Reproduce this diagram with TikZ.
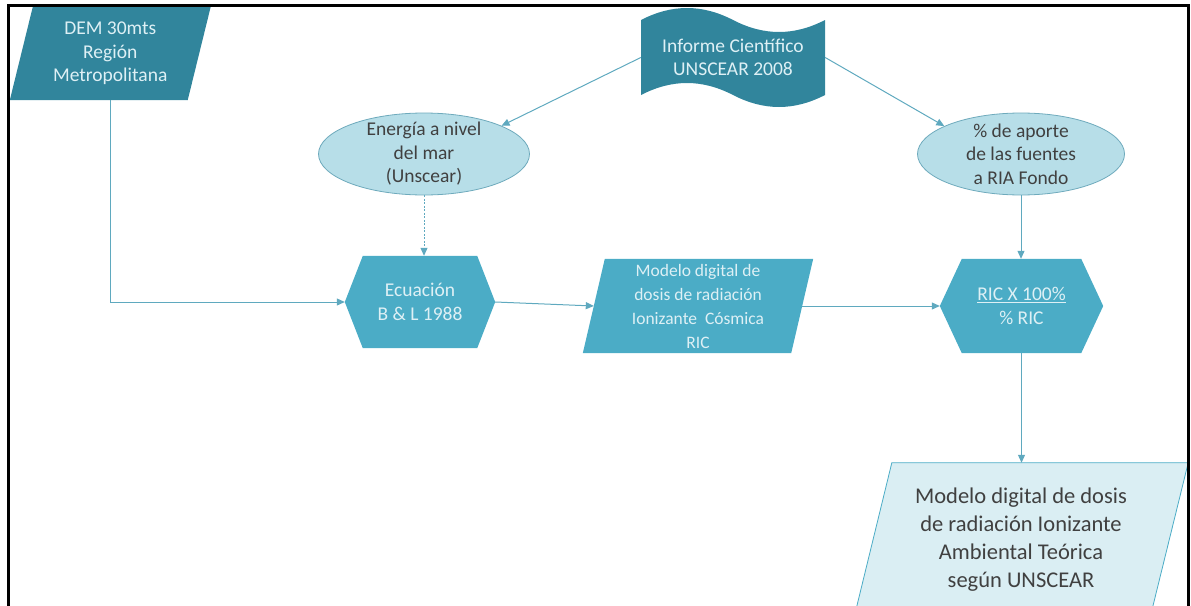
\documentclass[tikz,border=0pt]{standalone}
\usepackage{fontspec}
\setmainfont{Carlito}
\usetikzlibrary{arrows.meta,shapes.geometric,backgrounds}
\definecolor{darkteal}{RGB}{49,133,156}
\definecolor{midteal}{RGB}{75,172,198}
\definecolor{lightblue}{RGB}{183,222,232}
\definecolor{paleblue}{RGB}{218,238,243}
\definecolor{ellline}{RGB}{110,170,188}
\definecolor{connc}{RGB}{95,169,191}
\definecolor{lighttext}{RGB}{222,240,245}
\definecolor{darktext}{RGB}{64,64,64}
\begin{document}
\begin{tikzpicture}[x=1pt,y=-1pt,
  box/.style={inner sep=0pt, align=center, text=lighttext, font=\fontsize{19.5}{23.5}\selectfont},
  dtext/.style={inner sep=0pt, align=center, text=darktext, font=\fontsize{19.5}{23.5}\selectfont},
  ellnode/.style={ellipse, draw=ellline, fill=lightblue, line width=0.8pt, inner sep=0pt},
  conn/.style={draw=connc, line width=1pt, -{Triangle[length=8pt,width=7pt]}},
  dotline/.style={dash pattern=on 2pt off 1.5pt},
  frameline/.style={line width=3pt, black}
]
\useasboundingbox (0,0) rectangle (1191,605);
\clip (0,0) rectangle (1191,605);

% nodes
\node[box, minimum width=177.5, minimum height=93] (dem) at (110.25,53.5) {DEM 30mts\\Región\\Metropolitana};
\node[box, minimum width=184, minimum height=75] (wave) at (733,57.5) {Informe Científico\\UNSCEAR 2008};
\node[ellnode, minimum width=211, minimum height=82] (ell1) at (424,154) {};
\node[dtext] (ell1t) at (ell1.center) {Energía a nivel\\del mar\\(Unscear)};
\node[ellnode, minimum width=207, minimum height=82] (ell2) at (1021,154) {};
\node[dtext] (ell2t) at (ell2.center) {\% de aporte\\de las fuentes\\a RIA Fondo};
\node[box, minimum width=150, minimum height=92] (ecu) at (420,302) {Ecuación\\B \& L 1988};
\node[box, font=\fontsize{17.5}{24}\selectfont, minimum width=208, minimum height=94] (modelo) at (698,306) {Modelo digital de\\dosis de radiación\\Ionizante~ Cósmica\\RIC};
\node[box, minimum width=163, minimum height=94] (ric) at (1021.5,306) {\underline{RIC X 100\%}\\\% RIC};
\node[dtext, font=\fontsize{22.5}{28}\selectfont, minimum width=296, minimum height=154] (final) at (1021,540) {Modelo digital de dosis\\de radiación Ionizante\\Ambiental Teórica\\según UNSCEAR};

% shapes behind the texts
\begin{scope}[on background layer]
  \fill[darkteal] ([xshift=11.5]dem.north west) -- ([xshift=11.5]dem.north east) -- ([xshift=-11.5]dem.south east) -- ([xshift=-11.5]dem.south west) -- cycle;
  \begin{scope}[shift={(wave.center)}]
    \fill[darkteal] (-92,-37.5) .. controls (-61,-53.5) and (-31,-53.5) .. (0,-37.5)
      .. controls (31,-21.5) and (61,-21.5) .. (92,-37.5) -- (92,37.5)
      .. controls (61,53.5) and (31,53.5) .. (0,37.5)
      .. controls (-31,21.5) and (-61,21.5) .. (-92,37.5) -- cycle;
  \end{scope}
  \fill[midteal] (ecu.west) -- ([xshift=18]ecu.north west) -- ([xshift=-18]ecu.north east) -- (ecu.east) -- ([xshift=-18]ecu.south east) -- ([xshift=18]ecu.south west) -- cycle;
  \fill[midteal] (ric.west) -- ([xshift=22]ric.north west) -- ([xshift=-22]ric.north east) -- (ric.east) -- ([xshift=-22]ric.south east) -- ([xshift=22]ric.south west) -- cycle;
  \fill[midteal] ([xshift=11]modelo.north west) -- ([xshift=11]modelo.north east) -- ([xshift=-11]modelo.south east) -- ([xshift=-11]modelo.south west) -- cycle;
  \filldraw[fill=paleblue, draw=midteal, line width=0.8pt] ([xshift=19]final.north west) -- ([xshift=19]final.north east) -- ++(-43.6,177) -- ++(-296,0) -- cycle;
\end{scope}

% connectors
\draw[conn] (dem.south) |- (ecu.west);
\draw[conn] (wave.west) -- (ell1.20);
\draw[conn] (wave.east) -- (ell2.160);
\draw[conn, dotline] (ell1.south) -- (ell1.south |- ecu.north);
\draw[conn] (ell2.south) -- (ell2.south |- ric.north);
\draw[conn] (ecu.east) -- (modelo.west);
\draw[conn] (modelo.east) -- (ric.west);
\draw[conn] (ric.south) -- (ric.south |- final.north);

% frame
\draw[frameline] (8,615) -- (8,5) -- (1188,5) -- (1188,615);
\end{tikzpicture}
\end{document}
